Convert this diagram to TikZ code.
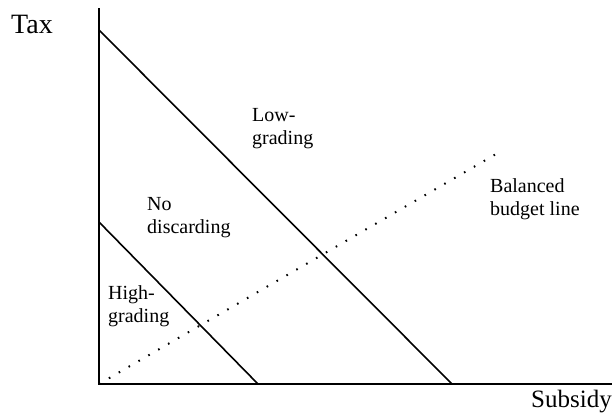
\documentclass[tikz,border=0pt]{standalone}
\usepackage{fontspec}
\setmainfont{Liberation Serif}
\usetikzlibrary{positioning}

\begin{document}
\begin{tikzpicture}[
    x=1pt, y=-1pt,
    axis/.style={line width=1.3pt},
    cost/.style={line width=1.6pt, line cap=round},
    budget/.style={line width=2pt, dash pattern=on 1.6pt off 9.8pt},
    axislabel/.style={inner sep=0pt, font=\fontsize{25}{28}\selectfont},
    region/.style={inner sep=0pt, align=left, anchor=north west, font=\fontsize{20}{23}\selectfont}
]
\useasboundingbox (0,0) rectangle (612,416);

% axes
\coordinate (origin) at (99,384);
\coordinate (ytop) at (99,8);
\coordinate (xend) at (612,384);
\draw[axis] (ytop) -- (origin) -- (xend);

\node[axislabel, anchor=base west, font=\fontsize{28}{30}\selectfont] (tax) at (11,33) {Tax};
\node[axislabel, anchor=base east] (subsidy) at (612,407) {Subsidy};

% boundary lines
\coordinate (lowtop) at (99,30);
\coordinate (lowend) at (452,384);
\coordinate (hightop) at (99,222);
\coordinate (highend) at (258,384);
\draw[cost] (lowtop) -- (lowend);
\draw[cost] (hightop) -- (highend);

% balanced budget line
\coordinate (bbend) at (503,150);
\draw[budget] (origin) -- (bbend);

% region labels
\node[region] (lowgrading) at (252,108) {Low-\\grading};
\node[region] (nodiscard) at (147,197) {No\\discarding};
\node[region] (highgrading) at (108,285) {High-\\grading};
\node[region] (bblabel) at (490,178) {Balanced\\budget line};

\end{tikzpicture}
\end{document}
